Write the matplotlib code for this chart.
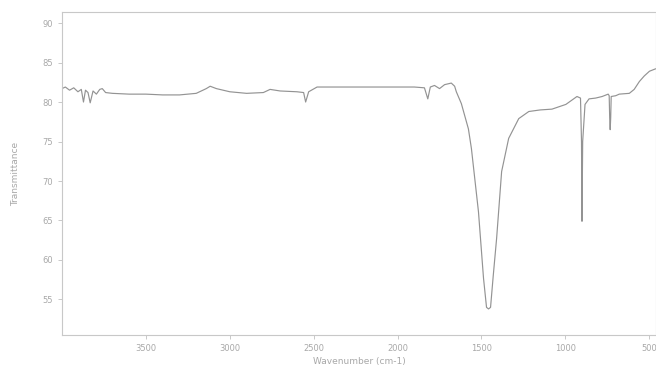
import matplotlib
matplotlib.use("Agg")
import matplotlib.pyplot as plt

# FTIR spectrum (wavenumber cm-1, transmittance)
wavenumber = [4000, 3980, 3955, 3930, 3905, 3885, 3872, 3860, 3845, 3832, 3815, 3795,
              3775, 3760, 3740, 3700, 3600, 3500, 3400, 3300, 3200, 3140, 3117, 3080,
              3000, 2900, 2800, 2760, 2700, 2600, 2560, 2548, 2530, 2480, 2400, 2300, 2200,
              2100, 2000, 1900, 1840, 1820, 1805, 1780, 1750, 1720, 1700, 1680, 1660,
              1650, 1620, 1578, 1560, 1518, 1488, 1470, 1458, 1446, 1430, 1410, 1380,
              1338, 1278, 1218, 1150, 1080, 997, 931, 910, 904, 901, 897, 883, 859,
              820, 781, 745, 739, 736, 733, 730, 727, 700, 679, 619, 590, 559, 530,
              499, 463]
transmittance = [81.7, 81.9, 81.5, 81.8, 81.3, 81.6, 80.0, 81.5, 81.2, 79.9, 81.4, 81.0,
                 81.6, 81.7, 81.2, 81.1, 81.0, 81.0, 80.9, 80.9, 81.1, 81.7, 82.0, 81.7,
                 81.3, 81.1, 81.2, 81.6, 81.4, 81.3, 81.2, 80.0, 81.3, 81.9, 81.9, 81.9, 81.9,
                 81.9, 81.9, 81.9, 81.8, 80.4, 81.9, 82.1, 81.7, 82.2, 82.3, 82.4, 82.0,
                 81.3, 79.8, 76.6, 74.1, 66.1, 57.7, 54.0, 53.8, 54.0, 58.0, 62.7, 71.2,
                 75.4, 77.9, 78.8, 79.0, 79.1, 79.7, 80.7, 80.5, 75.0, 64.9, 75.0, 79.7, 80.4,
                 80.5, 80.7, 81.0, 80.8, 78.0, 76.5, 78.0, 80.7, 80.8, 81.0, 81.1, 81.6, 82.6, 83.3,
                 83.9, 84.2]

x_ticks = [3500, 3000, 2500, 2000, 1500, 1000, 500]
y_ticks = [55, 60, 65, 70, 75, 80, 85, 90]

fig = plt.figure(figsize=(6.56, 3.78), dpi=100)
ax = fig.add_axes([62 / 656, 1 - 335 / 378, 594 / 656, 323 / 378])

ax.plot(wavenumber, transmittance, color="#939393", lw=0.85)

ax.set_xlim(4000, 460)
ax.set_ylim(50.5, 91.4)
ax.set_xticks(x_ticks)
ax.set_yticks(y_ticks)

txt = "#a8a8a8"
for s in ax.spines.values():
    s.set_color("#c8c8c8")
    s.set_linewidth(0.8)
ax.tick_params(colors="#c0c0c0", labelcolor=txt, labelsize=6, length=3, width=0.6)
ax.set_xlabel("Wavenumber (cm-1)", fontsize=6.5, color=txt, labelpad=3)
ax.set_ylabel("Transmittance", fontsize=6.5, color=txt, labelpad=16)

fig.savefig("out.png", dpi=100)
